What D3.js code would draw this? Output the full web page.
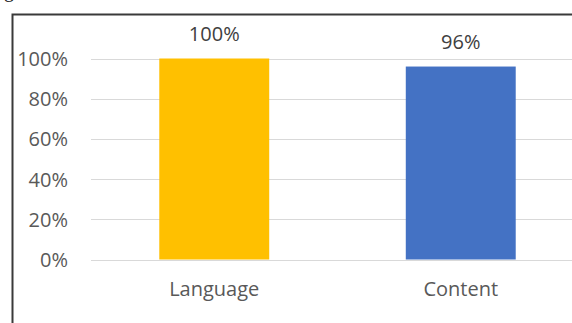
<!DOCTYPE html>
<html>
<head>
<meta charset="utf-8">
<script src="https://cdn.jsdelivr.net/npm/d3@7"></script>
<style>
  html, body { margin: 0; padding: 0; background: #fff; }
  svg { display: block; }
</style>
</head>
<body>
<svg id="chart" width="572" height="323"></svg>
<script>
// Share of items covered, by category
const categories = ["Language", "Content"];
const values = [1.00, 0.96];
const barColors = ["#FFC000", "#4472C4"];
const yTicks = [0, 0.2, 0.4, 0.6, 0.8, 1.0];

const svg = d3.select("#chart");
const W = 572, H = 323;
const font = "'Open Sans', 'Noto Sans', sans-serif";
const textColor = "#595959";
const fontSize = 20;

// Plot area (extends past the right edge, as the frame is cropped)
const plot = { left: 91, right: 584, top: 58.5, bottom: 259.5 };

const x = d3.scaleBand()
  .domain(categories)
  .range([plot.left, plot.right])
  .paddingInner(0.554)
  .paddingOuter(0.277);

const y = d3.scaleLinear()
  .domain([0, 1])
  .range([plot.bottom, plot.top]);

// Fragment of the surrounding document's text above the frame
svg.append("text")
  .attr("x", 4).attr("y", -3)
  .attr("font-family", "'Liberation Serif', serif")
  .attr("font-size", 20)
  .attr("fill", "#222")
  .text("g");

// Gridlines
svg.append("g")
  .selectAll("line")
  .data(yTicks)
  .join("line")
  .attr("x1", plot.left).attr("x2", plot.right)
  .attr("y1", d => Math.round(y(d)) + 0.5)
  .attr("y2", d => Math.round(y(d)) + 0.5)
  .attr("stroke", "#D9D9D9")
  .attr("stroke-width", 1.2);

// Y axis labels
const yAxis = d3.axisLeft(y)
  .tickValues(yTicks)
  .tickFormat(d3.format(".0%"))
  .tickSize(0)
  .tickPadding(0);

const yG = svg.append("g")
  .attr("transform", `translate(68,0)`)
  .call(yAxis);
yG.select(".domain").remove();
yG.selectAll("text")
  .attr("font-family", font)
  .attr("font-size", fontSize)
  .attr("fill", textColor)
  .attr("dy", "0.35em");

// Bars
svg.append("g")
  .selectAll("rect")
  .data(categories)
  .join("rect")
  .attr("x", d => x(d))
  .attr("width", x.bandwidth())
  .attr("y", (d, i) => y(values[i]))
  .attr("height", (d, i) => y(0) - y(values[i]))
  .attr("fill", (d, i) => barColors[i]);

// Value labels
svg.append("g")
  .selectAll("text")
  .data(categories)
  .join("text")
  .attr("x", d => x(d) + x.bandwidth() / 2)
  .attr("y", (d, i) => y(values[i]) - 25)
  .attr("text-anchor", "middle")
  .attr("font-family", font)
  .attr("font-size", fontSize)
  .attr("fill", "#404040")
  .attr("dy", "0.35em")
  .text((d, i) => d3.format(".0%")(values[i]));

// Category axis labels
const xAxis = d3.axisBottom(x).tickSize(0).tickPadding(0);
const xG = svg.append("g")
  .attr("transform", `translate(0,${plot.bottom + 29.5})`)
  .call(xAxis);
xG.select(".domain").remove();
xG.selectAll("text")
  .attr("font-family", font)
  .attr("font-size", fontSize)
  .attr("fill", textColor)
  .attr("dy", "0.35em");

// Frame around the chart (only top and left edges fall inside the view)
svg.append("path")
  .attr("d", `M12.5,${H + 5} V14.5 H${W + 5}`)
  .attr("fill", "none")
  .attr("stroke", "#3a3a3a")
  .attr("stroke-width", 2);
</script>
</body>
</html>
